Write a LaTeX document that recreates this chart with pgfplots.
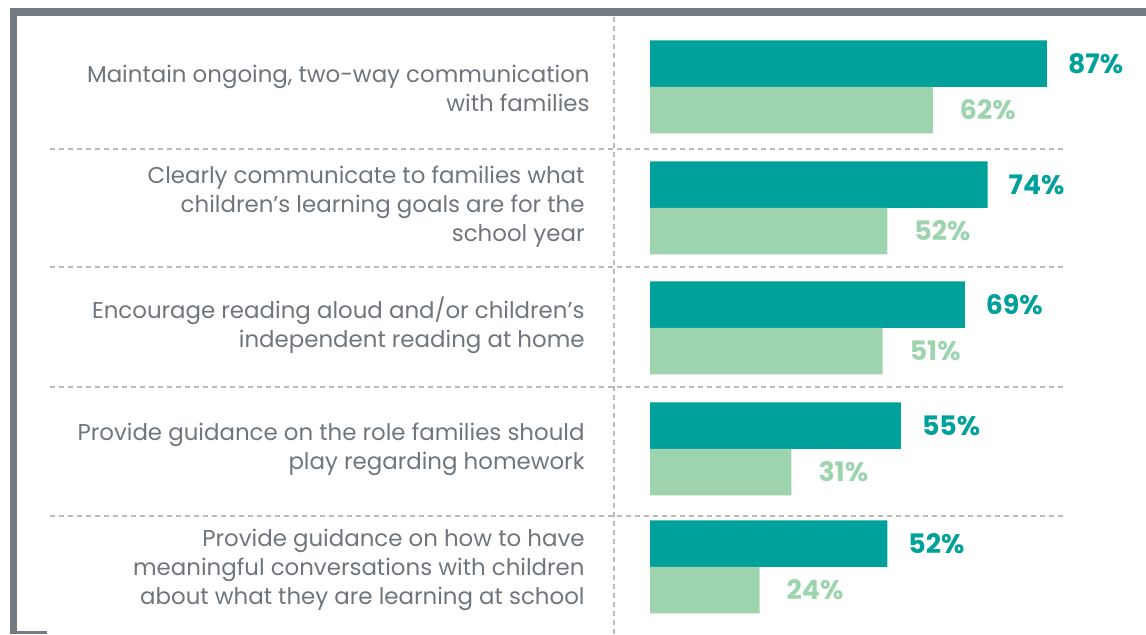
\documentclass[border=0pt]{standalone}
\usepackage{pgfplots}
\pgfplotsset{compat=1.18}
\usepackage{fontspec}
\setmainfont{Poppins}
\definecolor{teal}{HTML}{00A19A}
\definecolor{mint}{HTML}{9DD4AE}
\definecolor{txtgray}{HTML}{6E757C}
\definecolor{framegray}{HTML}{737A82}
\definecolor{dashgray}{HTML}{B9BCBF}

\begin{document}
\begin{tikzpicture}
\begin{axis}[
    width=573pt, height=317pt,
    scale only axis,
    xbar,
    xmin=-142.45, xmax=108.7,
    ymin=0, ymax=634,
    y dir=reverse,
    bar width=46.5,
    hide axis,
    clip=false,
    /pgf/number format/assume math mode=true,
    nodes near coords={\pgfmathprintnumber\pgfplotspointmeta\%},
    nodes near coords style={anchor=west, xshift=7pt, font=\bfseries\fontsize{13.4}{14}\selectfont},
  ]
  % y values are the row centres in pixels of the original layout
  \addplot[fill=teal, draw=none, bar shift=-23.5,
    every node near coord/.append style={text=teal}] coordinates {
    (87,87) (74,208) (69,328) (55,449) (52,567)
  };
  \addplot[fill=mint, draw=none, bar shift=23,
    every node near coord/.append style={text=mint, xshift=3pt}] coordinates {
    (62,87) (52,208) (51,328) (31,449) (24,567)
  };

  % frame
  \draw[framegray, line width=4pt] (axis cs:-140.3,12) -- (axis cs:108.7,12);
  \draw[framegray, line width=3.5pt] (axis cs:-139.5,8) -- (axis cs:-139.5,634);
  \draw[framegray, line width=1.2pt] (axis cs:-140.3,632.5) -- (axis cs:-132.2,632.5);

  % separators
  \draw[dashgray, line width=0.6pt, dash pattern=on 2.5pt off 2pt] (axis cs:-7.89,17) -- (axis cs:-7.89,634);
  \pgfplotsinvokeforeach{149,267,387,516}{
    \draw[dashgray, line width=0.6pt, dash pattern=on 2.5pt off 2pt] (axis cs:-131.5,#1) -- (axis cs:91.2,#1);
  }

  % category labels
  \begin{scope}[every node/.style={anchor=east, align=right, text=txtgray, inner sep=0pt,
      font=\fontsize{11.45}{14.5}\selectfont}]
    \node at (axis cs:-13.15,88) {Maintain ongoing, two-way communication\\with families};
    \node at (axis cs:-14.25,207) {Clearly communicate to families what\\children’s learning goals are for the\\school year};
    \node at (axis cs:-14.25,325) {Encourage reading aloud and/or children’s\\independent reading at home};
    \node at (axis cs:-14.25,449) {Provide guidance on the role families should\\play regarding homework};
    \node at (axis cs:-14.25,570) {Provide guidance on how to have\\meaningful conversations with children\\about what they are learning at school};
  \end{scope}
\end{axis}
\pgfresetboundingbox
\path (current axis.south west) rectangle (current axis.north east);
\end{tikzpicture}
\end{document}
